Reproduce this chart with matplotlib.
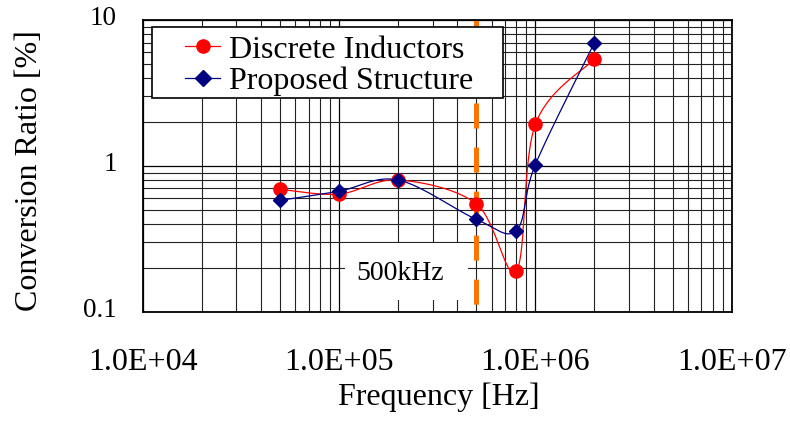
import numpy as np
import matplotlib
matplotlib.use("Agg")
import matplotlib.pyplot as plt
from matplotlib.patches import Rectangle
from matplotlib.ticker import NullFormatter, LogLocator
from matplotlib.transforms import ScaledTranslation

plt.rcParams['font.family'] = ['Liberation Serif', 'DejaVu Serif']
plt.rcParams['lines.scale_dashes'] = False

# Measured data
freq_hz = [5e4, 1e5, 2e5, 5e5, 8e5, 1e6, 2e6]
discrete_inductors = [0.69, 0.64, 0.80, 0.55, 0.19, 1.93, 5.4]
proposed_structure = [0.58, 0.67, 0.80, 0.43, 0.36, 1.02, 7.0]

series_labels = ['Discrete Inductors', 'Proposed Structure']
xtick_values = [1e4, 1e5, 1e6, 1e7]
xtick_labels = ['1.0E+04', '1.0E+05', '1.0E+06', '1.0E+07']
ytick_values = [0.1, 1, 10]
ytick_labels = ['0.1', '1', '10']
marker_freq = 5e5
marker_text = '500kHz'


def smooth_curve(xs, ys, n=40):
    """Catmull-Rom style Bezier smoothing in log-log space."""
    pts = np.column_stack([np.log10(xs), np.log10(ys)])
    out = []
    m = len(pts)
    for i in range(m - 1):
        p0 = pts[i - 1] if i > 0 else pts[i]
        p1 = pts[i]
        p2 = pts[i + 1]
        p3 = pts[i + 2] if i + 2 < m else pts[i + 1]
        c1 = p1 + (p2 - p0) / 6.0
        c2 = p2 - (p3 - p1) / 6.0
        t = np.linspace(0, 1, n)[:, None]
        seg = ((1 - t) ** 3) * p1 + 3 * ((1 - t) ** 2) * t * c1 \
            + 3 * (1 - t) * t ** 2 * c2 + t ** 3 * p2
        out.append(seg if i == 0 else seg[1:])
    curve = np.vstack(out)
    return 10 ** curve[:, 0], 10 ** curve[:, 1]


fig = plt.figure(figsize=(7.9, 4.21), dpi=100)
W, H = 790, 421
ax = fig.add_axes([142.7 / W, 1 - 311.7 / H, 589 / W, 291.7 / H])
ax.set_xscale('log')
ax.set_yscale('log')
ax.set_xlim(1e4, 1e7)
ax.set_ylim(0.1, 10)

# grid
ax.set_axisbelow(True)
ax.xaxis.set_minor_locator(LogLocator(base=10, subs=np.arange(2, 10)))
ax.yaxis.set_minor_locator(LogLocator(base=10, subs=np.arange(2, 10)))
ax.xaxis.set_minor_formatter(NullFormatter())
ax.yaxis.set_minor_formatter(NullFormatter())
ax.grid(which='major', color='black', linewidth=0.9)
ax.grid(which='minor', color='#222222', linewidth=0.8)

ax.set_xticks(xtick_values)
ax.set_xticklabels(xtick_labels)
ax.set_yticks(ytick_values)
ax.set_yticklabels(ytick_labels)
ax.tick_params(which='both', length=0)
ax.tick_params(axis='x', labelsize=23, pad=26.3)
ax.tick_params(axis='y', labelsize=19.5, pad=18.5)
shift_up = ScaledTranslation(0, 4.5 / 100, fig.dpi_scale_trans)
for lab in ax.get_yticklabels():
    lab.set_transform(lab.get_transform() + shift_up)
for s in ax.spines.values():
    s.set_linewidth(1.3)
    s.set_color('black')

# annotation box for the 500 kHz marker
ax.add_patch(Rectangle((345 / W, 1 - 300 / H), 123 / W, 57 / H,
                       transform=fig.transFigure, facecolor='white',
                       edgecolor='none', zorder=1))
fig.text(400.5 / W, 1 - 273 / H, marker_text, fontsize=20,
         ha='center', va='center', zorder=3)

# vertical dashed marker line
ax.plot([marker_freq, marker_freq], [10, 0.1], color='#FF7400',
        linewidth=3.6, linestyle=(3.6, (18, 13.7)), zorder=2)

# curves
rx, ry = smooth_curve(freq_hz, discrete_inductors)
bx, by = smooth_curve(freq_hz, proposed_structure)
ax.plot(rx, ry, color='#FF0000', linewidth=0.9, zorder=3)
ax.plot(bx, by, color='#000080', linewidth=0.9, zorder=3)
ax.plot(freq_hz, discrete_inductors, linestyle='none', marker='o',
        markersize=9.5, color='#FF0000', zorder=4)
ax.plot(freq_hz, proposed_structure, linestyle='none', marker='D',
        markersize=7.6, color='#000080', zorder=4)

# legend
h1, = ax.plot([], [], color='#FF0000', linewidth=0.9, marker='o',
              markersize=9.5)
h2, = ax.plot([], [], color='#000080', linewidth=0.9, marker='D',
              markersize=7.8)
ax.add_patch(Rectangle((152 / W, 1 - 98 / H), 351 / W, 71 / H,
                       transform=fig.transFigure, facecolor='white',
                       edgecolor='black', linewidth=1.2, zorder=6,
                       clip_on=False))
leg = ax.legend([h1, h2], series_labels, loc='center left',
                bbox_to_anchor=(185 / W, 1 - 65.5 / H),
                bbox_transform=fig.transFigure, frameon=False,
                fontsize=23, borderpad=0, borderaxespad=0,
                handlelength=1.1, handletextpad=0.28, labelspacing=0.05,
                numpoints=1)
leg.set_zorder(7)

fig.text(30 / W, 1 - 171 / H, 'Conversion Ratio [%]', rotation=90,
         fontsize=23, ha='center', va='center')
fig.text(439 / W, 1 - 397 / H, 'Frequency [Hz]', fontsize=23,
         ha='center', va='center')

fig.savefig('out.png', dpi=100)
